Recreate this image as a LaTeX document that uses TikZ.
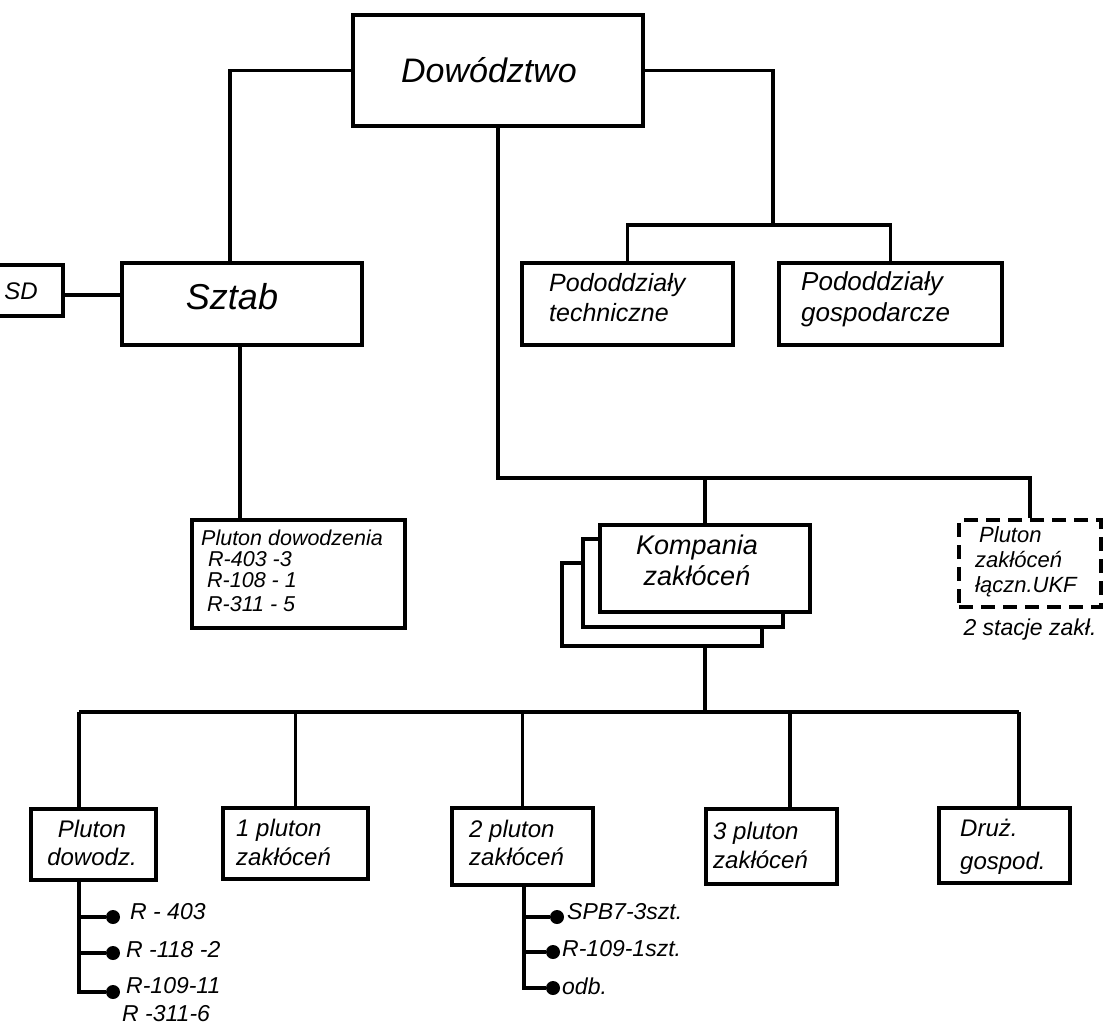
\documentclass[tikz,border=0pt]{standalone}
\usepackage{fontspec}
\setsansfont{Liberation Sans}
\begin{document}
\begin{tikzpicture}[x=1pt,y=-1pt,
  box/.style={draw, line width=3.2pt, fill=white, inner sep=0pt},
  dbox/.style={box, dash pattern=on 14pt off 8pt},
  conn/.style={line width=3.2pt},
  dot/.style={circle, fill=black, inner sep=0pt, minimum size=14pt},
  txt/.style={font=\sffamily\itshape\fontsize{#1}{#1}\selectfont, inner sep=0pt},
  lbl/.style={txt=#1, anchor=west, align=left}]
\useasboundingbox[fill=white] (0,0) rectangle (1112,1026);
\clip (0,0) rectangle (1112,1026);

% top level boxes
\node[box, minimum width=290pt, minimum height=111pt] (dow) at (498,70.5) {};
\node[txt=34] (dowt) at (489,70) {Dowództwo};
\node[box, minimum width=240pt, minimum height=82pt] (sztab) at (242,304) {};
\node[txt=36] (sztabt) at (232,297) {Sztab};
\node[box, minimum width=123pt, minimum height=51pt] (sd) at (1.5,290.5) {};
\node[txt=24, anchor=east] (sdt) at (38,291) {SD};
\node[box, minimum width=211pt, minimum height=82pt] (tech) at (627.5,304) {};
\node[lbl=25, font=\sffamily\itshape\fontsize{25}{30}\selectfont, anchor=north west] (techt) at (549,273) {Pododdziały\\techniczne};
\node[box, minimum width=223pt, minimum height=82pt] (gosp) at (890.5,304) {};
\node[lbl=26, font=\sffamily\itshape\fontsize{26}{31}\selectfont, anchor=north west] (gospt) at (801,271) {Pododdziały\\gospodarcze};

% Pluton dowodzenia
\node[box, minimum width=213pt, minimum height=108pt] (pdow) at (298.5,574) {};
\node[lbl=21.5, font=\sffamily\itshape\fontsize{21.5}{21}\selectfont, anchor=north west] (pdowt) at (201,530) {Pluton dowodzenia\\\hspace*{7pt}R-403 -3\\\hspace*{6pt}R-108 - 1\\[3pt]\hspace*{6pt}R-311 - 5};

% Kompania (stacked)
\node[box, minimum width=200pt, minimum height=83pt] (kb3) at (662,604.5) {};
\node[box, minimum width=200pt, minimum height=88pt] (kb2) at (683,583) {};
\node[box, minimum width=210pt, minimum height=87pt] (kom) at (705,568.5) {};
\node[txt=27, align=center, font=\sffamily\itshape\fontsize{27}{31}\selectfont] (komt) at (697,560) {Kompania\\zakłóceń};

% UKF dashed
\node[dbox, minimum width=142pt, minimum height=87pt] (ukf) at (1030,563.5) {};
\node[lbl=22, font=\sffamily\itshape\fontsize{22}{25}\selectfont, anchor=north west] (ukft) at (975,526) {\hspace*{4pt}Pluton\\zakłóceń\\łączn.UKF};
\node[txt=23] (stac) at (1030,630) {2 stacje zakł.};

% bottom row
\node[box, minimum width=125pt, minimum height=71pt] (pd) at (93.5,844.5) {};
\node[txt=24, align=center, font=\sffamily\itshape\fontsize{24}{28}\selectfont] (pdt) at (92,843) {Pluton\\dowodz.};
\node[box, minimum width=145pt, minimum height=71pt] (p1) at (295.5,843.5) {};
\node[lbl=24, font=\sffamily\itshape\fontsize{24}{29}\selectfont] (p1t) at (236,842) {1 pluton\\zakłóceń};
\node[box, minimum width=141pt, minimum height=77pt] (p2) at (522.5,846.5) {};
\node[lbl=24, font=\sffamily\itshape\fontsize{24}{28}\selectfont] (p2t) at (469,843) {2 pluton\\zakłóceń};
\node[box, minimum width=131pt, minimum height=75pt] (p3) at (771.5,846.5) {};
\node[lbl=24, font=\sffamily\itshape\fontsize{24}{29}\selectfont] (p3t) at (713,845) {3 pluton\\zakłóceń};
\node[box, minimum width=131pt, minimum height=75pt] (dg) at (1004.5,845.5) {};
\node[lbl=24, font=\sffamily\itshape\fontsize{24}{33}\selectfont] (dgt) at (960,847) {Druż.\\gospod.};

% connectors top
\draw[conn] (dow.west) -| ([xshift=-12pt]sztab.north);
\draw[conn] (sd.east |- 0,295) coordinate (sde) -- (sde -| sztab.west);
\coordinate (rj) at (773,225);
\draw[conn] (dow.east) -| (rj);
\draw[conn] (tech.north) |- (rj) -| (gosp.north);
\draw[conn] ([xshift=-2pt]sztab.south) -- ([xshift=-2pt]sztab.south |- pdow.north);
\coordinate (kj) at (498,478);
\draw[conn] (dow.south) -- (kj) -| (ukf.north);
\draw[conn] (kom.north) -- (kom.north |- kj);

% connectors bottom
\coordinate (bj) at (705,712);
\draw[conn] (kb3.south -| kom.south) -- (bj);
\coordinate (bl) at (79,712);
\coordinate (br) at (1019,712);
\draw[conn] (bl) -- (br);
\draw[conn] (bl) -- (bl |- pd.north);
\draw[conn] (p1.north) -- (p1.north |- bl);
\draw[conn] (p2.north) -- (p2.north |- bl);
\draw[conn] ([xshift=18.5pt]p3.north) -- ([xshift=18.5pt]p3.north |- bl);
\draw[conn] (br) -- (br |- dg.north);

% bullet tree under Pluton dowodz.
\node[dot] (d1) at (113,917) {};
\node[dot] (d2) at (113,953) {};
\node[dot] (d3) at (113,992) {};
\coordinate (t1) at (79,880);
\draw[conn] (t1) |- (d3);
\draw[conn] (d1 -| t1) -- (d1);
\draw[conn] (d2 -| t1) -- (d2);
\node[lbl=23] (l1) at (130,912) {R - 403};
\node[lbl=23] (l2) at (126,950) {R -118 -2};
\node[lbl=23] (l3) at (126,986) {R-109-11};
\node[lbl=23] (l4) at (122,1014) {R -311-6};

% bullet tree under 2 pluton
\node[dot] (e1) at (557,917) {};
\node[dot] (e2) at (553,952) {};
\node[dot] (e3) at (553,988) {};
\coordinate (t2) at (524,885);
\draw[conn] (t2) |- (e3);
\draw[conn] (e1 -| t2) -- (e1);
\draw[conn] (e2 -| t2) -- (e2);
\node[lbl=23] (m1) at (567,912) {SPB7-3szt.};
\node[lbl=23] (m2) at (562,949) {R-109-1szt.};
\node[lbl=23] (m3) at (562,986) {odb.};
\end{tikzpicture}
\end{document}
